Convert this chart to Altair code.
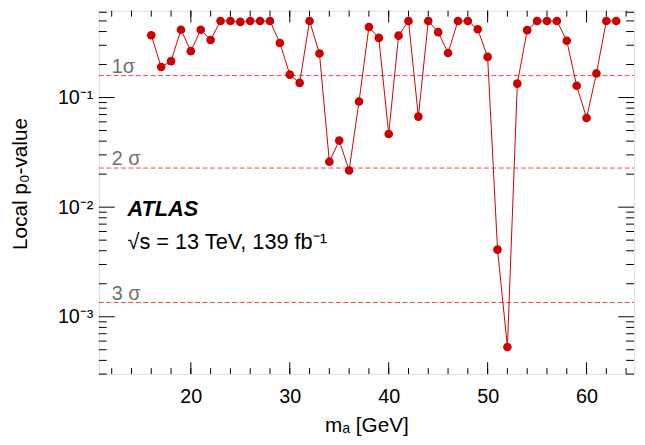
import altair as alt
import pandas as pd

# Data
mass = list(range(16, 64))
p0 = [0.37, 0.19, 0.215, 0.415, 0.265, 0.415, 0.335, 0.5, 0.5, 0.49, 0.5, 0.5, 0.5,
      0.315, 0.162, 0.136, 0.5, 0.252, 0.026, 0.0405, 0.0216, 0.092, 0.44,
      0.35, 0.0465, 0.367, 0.5, 0.067, 0.5, 0.395, 0.255, 0.5, 0.5, 0.42, 0.235,
      0.0041, 0.00053, 0.134, 0.412, 0.5, 0.5, 0.5, 0.33, 0.128, 0.065, 0.166, 0.5, 0.5]

sigma_p = [0.1587, 0.02275, 0.00135]
sigma_labels = ["1σ", "2 σ", "3 σ"]

x_tick_values = [20, 30, 40, 50, 60]
x_minor_ticks = list(range(12, 65, 2))
y_tick_values = [0.1, 0.01, 0.001]
y_tick_labels = ["10⁻¹", "10⁻²", "10⁻³"]
y_minor_ticks = [k * 10.0 ** e for e in (-4, -3, -2, -1) for k in range(2, 10)
                 if 3e-4 <= k * 10.0 ** e <= 0.62]

W, H = 542, 368
FONT = "Liberation Sans"

df = pd.DataFrame({"m": mass, "p": p0})
xs = alt.Scale(domain=[10.7, 64.8], nice=False, zero=False)
ys = alt.Scale(type="log", domain=[3e-4, 0.62], nice=False)

label_expr = " : ".join(
    f"datum.value == {v} ? '{l}'" for v, l in zip(y_tick_values, y_tick_labels)
) + " : ''"

x_axis = alt.Axis(values=x_tick_values, ticks=False, domain=False, grid=False,
                  labelFontSize=20, titleFontSize=21, labelPadding=13,
                  titlePadding=8, labelFont=FONT, titleFont=FONT,
                  titleFontWeight="normal", labelColor="black", titleColor="black")
y_axis = alt.Axis(values=y_tick_values, labelExpr=label_expr, ticks=False,
                  domain=False, grid=False, labelFontSize=20, titleFontSize=21,
                  labelPadding=6, labelFont=FONT, titleFont=FONT,
                  titleFontWeight="normal", labelColor="black", titleColor="black",
                  titleX=-73, titleY=175, titleBaseline="alphabetic", titleAngle=270)
XT = "mₐ [GeV]"
YT = "Local p₀-value"


def X(field):
    return alt.X(field, scale=xs, axis=x_axis, title=XT)


def Y(field):
    return alt.Y(field, scale=ys, axis=y_axis, title=YT)


line = alt.Chart(df).mark_line(color="#d00000", strokeWidth=1).encode(x=X("m:Q"), y=Y("p:Q"))
pts = alt.Chart(df).mark_circle(color="#cc0000", size=76, opacity=1).encode(x=X("m:Q"), y=Y("p:Q"))

sig_df = pd.DataFrame({"p": sigma_p, "label": sigma_labels, "x": [12.0] * 3})
sig_lines = alt.Chart(sig_df).mark_rule(color="#f04848", strokeWidth=1, strokeDash=[5, 2.5]).encode(
    y=Y("p:Q"), x=alt.value(0), x2=alt.value(W))
sig_text = alt.Chart(sig_df).mark_text(align="left", baseline="alphabetic", dy=-3,
                                       fontSize=20, font=FONT, color="#707070").encode(
    x=X("x:Q"), y=Y("p:Q"), text="label:N")

atlas = alt.Chart(pd.DataFrame({"t": ["ATLAS"]})).mark_text(
    align="left", baseline="alphabetic", fontSize=22, fontWeight="bold", fontStyle="italic",
    font=FONT, color="black").encode(x=alt.value(29), y=alt.value(208), text="t:N")
energy = alt.Chart(pd.DataFrame({"t": ["√s = 13 TeV, 139 fb⁻¹"]})).mark_text(
    align="left", baseline="alphabetic", fontSize=22, font=FONT, color="black").encode(
    x=alt.value(29), y=alt.value(241), text="t:N")

# tick marks drawn inside the frame
ymaj = pd.DataFrame({"v": y_tick_values})
ymin = pd.DataFrame({"v": y_minor_ticks})
xmaj = pd.DataFrame({"v": x_tick_values})
xmin = pd.DataFrame({"v": x_minor_ticks})


def yticks(d, length):
    left = alt.Chart(d).mark_rule(color="black", strokeWidth=1).encode(
        y=Y("v:Q"), x=alt.value(0), x2=alt.value(length))
    right = alt.Chart(d).mark_rule(color="black", strokeWidth=1).encode(
        y=Y("v:Q"), x=alt.value(W - length), x2=alt.value(W))
    return [left, right]


def xticks(d, length):
    bottom = alt.Chart(d).mark_rule(color="black", strokeWidth=1).encode(
        x=X("v:Q"), y=alt.value(H), y2=alt.value(H - length))
    top = alt.Chart(d).mark_rule(color="black", strokeWidth=1).encode(
        x=X("v:Q"), y=alt.value(0), y2=alt.value(length))
    return [bottom, top]


chart = alt.layer(
    sig_lines, line, pts, sig_text, atlas, energy,
    *yticks(ymaj, 16), *yticks(ymin, 8), *xticks(xmaj, 12), *xticks(xmin, 6),
).properties(
    width=W, height=H, autosize="none",
    padding={"left": 92, "top": 0, "right": 3, "bottom": 62},
).configure_view(stroke="black", strokeWidth=1.5).configure(background="white")

chart.save("out.html", embed_options={"renderer": "svg", "actions": False})
